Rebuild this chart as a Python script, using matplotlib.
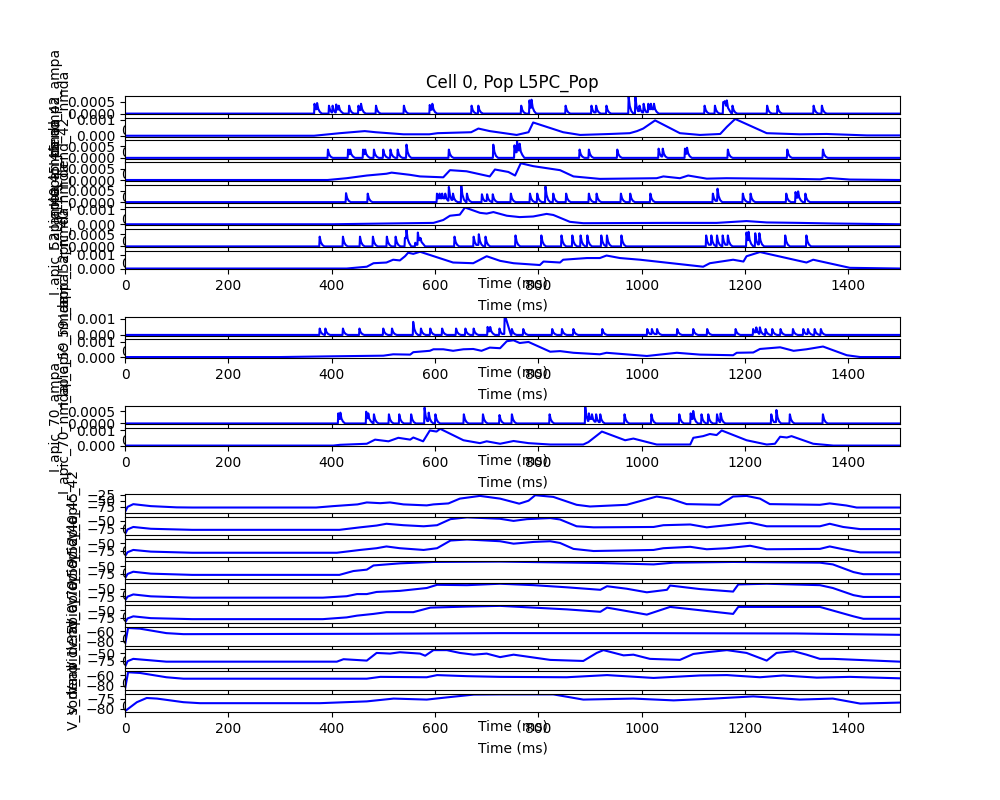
import numpy as np
import matplotlib
matplotlib.use('Agg')
import matplotlib.pyplot as plt

tmax = 1500.

#############################################
# Corrientes sinapticas (ampa: tiempos y picos de cada evento)
t_a1 = [366, 371, 394, 401, 408, 413, 433, 451, 456, 485, 539, 589, 594, 670, 683, 766, 782, 786, 852, 902,
        911, 931, 974, 987, 995, 1003, 1012, 1017, 1023, 1121, 1141, 1157, 1160, 1164, 1175, 1242, 1262, 1332, 1348]
p_a1 = [4.1e-4, 4.4e-4, 3.3e-4, 3.3e-4, 3.8e-4, 3.3e-4, 3.3e-4, 3.3e-4, 4.1e-4, 3.3e-4, 3.3e-4, 3.6e-4, 4.1e-4,
        3.3e-4, 3.3e-4, 3.3e-4, 5.5e-4, 5.8e-4, 3.3e-4, 3.3e-4, 3.3e-4, 3.3e-4, 7.0e-4, 7.0e-4, 3.3e-4, 4.1e-4,
        4.1e-4, 4.1e-4, 4.1e-4, 3.3e-4, 3.3e-4, 4.8e-4, 5.2e-4, 5.5e-4, 3.3e-4, 3.3e-4, 3.3e-4, 3.3e-4, 3.3e-4]

t_a3 = [392, 431, 435, 460, 464, 481, 499, 513, 527, 544, 626, 712, 753, 758, 763, 879, 897, 952, 1032, 1040,
        1083, 1087, 1166, 1281, 1350]
p_a3 = [3.5e-4, 3.5e-4, 3.5e-4, 3.5e-4, 3.5e-4, 3.5e-4, 3.5e-4, 3.5e-4, 3.5e-4, 5.6e-4, 3.5e-4, 5.6e-4, 5.3e-4,
        7.1e-4, 6.0e-4, 3.5e-4, 3.5e-4, 3.5e-4, 3.9e-4, 3.9e-4, 3.9e-4, 4.3e-4, 3.5e-4, 3.5e-4, 3.5e-4]

t_a5 = [427, 469, 603, 608, 613, 619, 626, 634, 650, 661, 690, 700, 711, 746, 783, 797, 813, 828, 853, 897,
        912, 959, 977, 1016, 1137, 1146, 1195, 1210, 1279, 1297, 1302, 1316]
p_a5 = [4.0e-4, 3.8e-4, 3.8e-4, 3.8e-4, 3.8e-4, 3.8e-4, 6.8e-4, 3.8e-4, 7.5e-4, 3.8e-4, 3.5e-4, 3.5e-4, 3.5e-4,
        3.8e-4, 3.8e-4, 3.8e-4, 7.0e-4, 3.8e-4, 3.8e-4, 3.8e-4, 3.8e-4, 3.8e-4, 3.8e-4, 3.8e-4, 3.8e-4, 6.0e-4,
        3.8e-4, 3.8e-4, 3.8e-4, 4.5e-4, 4.8e-4, 3.8e-4]

t_a7 = [376, 421, 454, 479, 506, 523, 541, 544, 561, 566, 571, 637, 674, 684, 697, 755, 805, 844, 865, 881,
        894, 921, 932, 960, 1124, 1134, 1145, 1156, 1166, 1202, 1206, 1219, 1227, 1277, 1318]
p_a7 = [4.0e-4, 4.0e-4, 4.0e-4, 4.0e-4, 4.0e-4, 4.0e-4, 3.5e-4, 6.9e-4, 1.5e-4, 5.7e-4, 3.5e-4, 4.0e-4, 4.0e-4,
        5.0e-4, 4.0e-4, 4.5e-4, 4.5e-4, 4.5e-4, 4.5e-4, 4.5e-4, 4.5e-4, 4.5e-4, 4.5e-4, 4.5e-4, 4.5e-4, 4.5e-4,
        4.5e-4, 4.5e-4, 4.5e-4, 5.7e-4, 6.0e-4, 5.4e-4, 5.4e-4, 4.5e-4, 4.5e-4]

t_a11 = [376, 387, 421, 453, 499, 516, 557, 572, 590, 613, 640, 658, 674, 701, 706, 724, 734, 737, 748, 770,
         826, 845, 867, 923, 1010, 1019, 1029, 1068, 1099, 1126, 1181, 1215, 1221, 1228, 1239, 1252, 1268,
         1292, 1312, 1321, 1334, 1346]
p_a11 = [4.0e-4, 4.0e-4, 4.0e-4, 4.0e-4, 4.0e-4, 4.0e-4, 8.2e-4, 4.0e-4, 4.0e-4, 4.0e-4, 4.0e-4, 4.0e-4, 4.0e-4,
         5.0e-4, 5.0e-4, 4.0e-4, 1.05e-3, 5.8e-4, 3.7e-4, 3.7e-4, 3.7e-4, 3.7e-4, 3.7e-4, 3.7e-4, 3.7e-4, 3.7e-4,
         3.7e-4, 3.7e-4, 3.7e-4, 3.7e-4, 3.7e-4, 3.7e-4, 4.7e-4, 4.7e-4, 3.7e-4, 3.7e-4, 3.7e-4, 3.7e-4, 3.7e-4,
         3.7e-4, 3.7e-4, 3.7e-4]

t_a15 = [412, 416, 466, 470, 481, 510, 530, 553, 579, 587, 600, 655, 692, 724, 748, 821, 890, 897, 903, 911,
         919, 966, 1018, 1072, 1094, 1099, 1115, 1128, 1145, 1152, 1250, 1260, 1286, 1350]
p_a15 = [4.2e-4, 4.5e-4, 4.9e-4, 4.2e-4, 3.8e-4, 3.8e-4, 3.8e-4, 3.8e-4, 6.6e-4, 4.5e-4, 3.8e-4, 3.8e-4, 3.8e-4,
         3.5e-4, 3.8e-4, 3.8e-4, 7.0e-4, 4.2e-4, 3.8e-4, 3.8e-4, 3.8e-4, 3.8e-4, 3.8e-4, 3.8e-4, 4.2e-4, 5.2e-4,
         3.8e-4, 3.8e-4, 3.8e-4, 4.2e-4, 3.8e-4, 5.6e-4, 3.8e-4, 3.8e-4]

# forma de cada evento ampa (ms desde el inicio, fraccion del pico)
spk_dt = [0, 0.8, 3, 6, 10]
spk_f = [0, 1, 0.45, 0.15, 0]

#############################################
# Corrientes nmda (puntos de la curva)
t_n2 = [0, 366, 416, 464, 485, 539, 589, 605, 670, 684, 706, 758, 781, 790, 848, 881, 939, 977, 991, 1003,
        1026, 1074, 1113, 1152, 1165, 1181, 1242, 1306, 1358, 1436, 1500]
v_n2 = [0, 0, 1.6e-4, 2.9e-4, 2.2e-4, 0.9e-4, 0.9e-4, 1.6e-4, 2.2e-4, 4.5e-4, 2.9e-4, 0.5e-4, 2.2e-4, 8.3e-4,
        2.2e-4, 0.5e-4, 1.1e-4, 1.6e-4, 2.9e-4, 4.5e-4, 9.6e-4, 1.6e-4, 0.5e-4, 1.1e-4, 5.6e-4, 10.5e-4, 1.6e-4,
        0.9e-4, 1.1e-4, 0.2e-4, 0.2e-4]

t_n4 = [0, 392, 429, 468, 506, 516, 552, 571, 616, 629, 661, 706, 716, 742, 755, 766, 790, 842, 868, 919,
        1029, 1042, 1074, 1090, 1126, 1164, 1294, 1345, 1361, 1403, 1500]
v_n4 = [0, 0, 0.8e-4, 2.0e-4, 2.8e-4, 3.3e-4, 2.3e-4, 1.6e-4, 1.2e-4, 4.4e-4, 3.9e-4, 1.6e-4, 4.7e-4, 3.6e-4,
        2.0e-4, 7.5e-4, 6.2e-4, 4.4e-4, 1.6e-4, 0.5e-4, 0.8e-4, 1.6e-4, 0.8e-4, 2.0e-4, 0.6e-4, 0.8e-4, 0.5e-4,
        0.3e-4, 0.9e-4, 0.2e-4, 0]

t_n6 = [0, 401, 506, 597, 616, 629, 648, 658, 687, 700, 713, 739, 764, 790, 816, 829, 861, 887, 1048, 1145,
        1203, 1242, 1306, 1371, 1500]
v_n6 = [0, 0, 0.5e-4, 0.9e-4, 2.8e-4, 5.6e-4, 6.3e-4, 11e-4, 7.5e-4, 7.0e-4, 8.0e-4, 5.6e-4, 4.7e-4, 5.1e-4,
        6.8e-4, 6.1e-4, 1.6e-4, 0.7e-4, 0.9e-4, 0.9e-4, 2.1e-4, 1.2e-4, 0.9e-4, 0.5e-4, 0]

t_n8 = [0, 429, 468, 481, 506, 519, 532, 542, 548, 558, 571, 635, 674, 700, 726, 752, 803, 810, 842, 848,
        894, 919, 932, 958, 997, 1119, 1132, 1177, 1197, 1203, 1229, 1319, 1332, 1403, 1500]
v_n8 = [0, 0, 1.3e-4, 3.8e-4, 4.3e-4, 6.3e-4, 5.8e-4, 8.8e-4, 11.3e-4, 10.5e-4, 12e-4, 4.3e-4, 3.8e-4, 8.8e-4,
        5.5e-4, 3.8e-4, 2.5e-4, 5.0e-4, 4.3e-4, 6.3e-4, 7.5e-4, 7.5e-4, 9.3e-4, 7.5e-4, 6.3e-4, 1.3e-4, 3.8e-4,
        6.3e-4, 5.0e-4, 8.8e-4, 11.8e-4, 4.3e-4, 6.3e-4, 0.5e-4, 0]

t_n12 = [0, 300, 403, 500, 519, 552, 558, 590, 597, 616, 635, 655, 674, 690, 706, 726, 739, 752, 764, 781,
         823, 842, 868, 919, 932, 1010, 1068, 1113, 1177, 1184, 1216, 1229, 1268, 1294, 1319, 1351, 1397, 1423, 1500]
v_n12 = [0, 0, 0.5e-4, 0.9e-4, 1.8e-4, 1.6e-4, 3.2e-4, 4.1e-4, 5.1e-4, 5.1e-4, 4.1e-4, 5.1e-4, 5.3e-4, 4.1e-4,
         6.2e-4, 5.8e-4, 10.4e-4, 11e-4, 9.2e-4, 9.9e-4, 3.5e-4, 3.9e-4, 2.8e-4, 1.8e-4, 2.8e-4, 0.7e-4, 2.8e-4,
         1.6e-4, 1.2e-4, 2.8e-4, 3.0e-4, 5.3e-4, 6.4e-4, 4.1e-4, 5.1e-4, 6.9e-4, 1.2e-4, 0, 0]

t_n16 = [0, 403, 416, 468, 484, 510, 529, 552, 558, 577, 590, 603, 610, 655, 687, 700, 726, 752, 781, 823,
         887, 897, 923, 968, 984, 1029, 1094, 1100, 1119, 1132, 1145, 1155, 1203, 1242, 1258, 1268, 1281, 1290,
         1332, 1371, 1500]
v_n16 = [0, 0, 0.5e-4, 1.2e-4, 3.9e-4, 2.8e-4, 5.1e-4, 3.9e-4, 5.3e-4, 2.8e-4, 9.9e-4, 9.2e-4, 11e-4, 3.5e-4,
         1.6e-4, 2.8e-4, 1.2e-4, 3.0e-4, 1.6e-4, 0.7e-4, 0.7e-4, 2.3e-4, 9.2e-4, 3.5e-4, 4.6e-4, 0.7e-4, 0.7e-4,
         5.1e-4, 6.2e-4, 7.6e-4, 6.9e-4, 9.9e-4, 3.5e-4, 0.7e-4, 1.2e-4, 5.8e-4, 5.3e-4, 6.2e-4, 1.2e-4, 0, 0]

#############################################
# Voltajes (mV)
t_v1 = [0, 5, 16, 50, 100, 130, 370, 403, 450, 468, 494, 513, 539, 584, 597, 626, 648, 687, 726, 763, 781,
        794, 829, 874, 900, 971, 1029, 1055, 1087, 1151, 1177, 1203, 1229, 1248, 1345, 1364, 1396, 1416, 1500]
v_v1 = [-95.8, -75, -64, -72, -77, -77.7, -77.7, -72, -65, -57, -60, -57, -65, -69, -65, -61, -41.5, -30.4,
        -41.5, -62, -50, -27.6, -34.5, -66.6, -73.5, -66.6, -33, -41.5, -63.8, -66.6, -33, -30.4, -41.5, -63.8,
        -66.6, -61, -69.4, -77.7, -77.7]

t_v2 = [0, 5, 16, 50, 130, 415, 455, 487, 506, 539, 578, 604, 630, 662, 726, 752, 778, 823, 842, 874, 907,
        1023, 1042, 1094, 1126, 1165, 1210, 1242, 1345, 1364, 1390, 1423, 1500]
v_v2 = [-93.5, -78, -70.1, -76, -79.5, -79.5, -71.3, -65.4, -59.6, -64.3, -67.8, -64.3, -44.4, -38.5, -43.2,
        -50.2, -44.4, -40.9, -45.5, -67.8, -71.3, -70.1, -64.3, -61.9, -71.3, -64.3, -56.1, -67.8, -67.8, -59.6,
        -70.1, -77.1, -77.1]

t_v3 = [0, 5, 16, 50, 130, 410, 455, 487, 506, 532, 578, 604, 630, 662, 726, 752, 791, 823, 842, 868, 907,
        1023, 1042, 1094, 1126, 1165, 1210, 1242, 1345, 1364, 1390, 1423, 1500]
v_v3 = [-93.5, -80, -72.4, -78, -81.8, -81.8, -72.4, -66.6, -60.7, -66.6, -72.4, -66.6, -40.9, -37.3, -43.2,
        -51.4, -45.5, -43.2, -49, -68.9, -76, -72.4, -66.6, -61.9, -70.1, -66.6, -58.4, -70.1, -68.9, -60.7,
        -70.1, -80.6, -80.6]

t_v4 = [0, 5, 16, 50, 130, 415, 442, 468, 481, 532, 597, 726, 920, 1023, 1062, 1177, 1345, 1370, 1410, 1429, 1500]
v_v4 = [-91.2, -76, -68.4, -75, -79.2, -79.2, -66, -61.2, -46.8, -39.6, -34.8, -33.6, -38.4, -43.2, -37.2,
        -34.8, -37.2, -43.2, -69.6, -76.8, -76.8]

t_v5 = [0, 5, 16, 50, 130, 383, 429, 449, 468, 487, 532, 584, 604, 662, 726, 791, 855, 920, 933, 971, 1010,
        1049, 1055, 1113, 1177, 1187, 1242, 1345, 1370, 1410, 1429, 1500]
v_v5 = [-90, -77, -69.6, -76, -80.4, -80.4, -75.6, -68.4, -68.4, -61.2, -57.6, -48, -37.2, -38.4, -33.6, -38.4,
        -45.6, -54, -42, -50.4, -62.4, -54, -39.6, -51.6, -60, -36, -33.6, -38.4, -48, -72, -78, -78]

t_v6 = [0, 5, 16, 50, 130, 383, 429, 449, 481, 506, 558, 591, 662, 726, 855, 920, 933, 1010, 1055, 1177, 1187,
        1345, 1410, 1429, 1500]
v_v6 = [-92.4, -78, -70.8, -77, -80.4, -80.4, -74.4, -68.4, -62.4, -56.4, -56.4, -40.8, -37.2, -34.8, -46.8,
        -55.2, -40.8, -64.8, -38.4, -62.4, -38.4, -38.4, -70.8, -79.2, -79.2]

t_v7 = [0, 6, 29, 80, 113, 468, 726, 1000, 1300, 1500]
v_v7 = [-86.7, -54, -55.3, -64, -66, -65.3, -64, -64, -64.7, -67.3]

t_v8 = [0, 5, 16, 80, 410, 423, 468, 487, 513, 532, 571, 581, 597, 623, 648, 675, 700, 726, 752, 823, 887, 913,
        926, 965, 984, 1016, 1074, 1100, 1126, 1165, 1203, 1242, 1261, 1294, 1319, 1345, 1371, 1500]
v_v8 = [-94.7, -76, -68.3, -77.5, -77.5, -69.4, -74, -48.8, -51, -46.5, -51, -58, -39.6, -39.6, -48.8, -54.5,
        -51, -62.6, -54.5, -71.7, -75.2, -48.8, -39.6, -56.8, -54.5, -68.3, -71.7, -52.2, -46.5, -39.6, -48.8,
        -74, -48.8, -43, -54.5, -68.3, -68.3, -77.5]

t_v9 = [0, 6, 29, 80, 113, 468, 494, 584, 604, 662, 726, 855, 933, 1023, 1113, 1165, 1229, 1274, 1339, 1403, 1500]
v_v9 = [-86, -54.7, -56, -64, -66.7, -66.7, -63.3, -64, -60, -62, -63.3, -64, -60, -65.3, -60.7, -60, -64,
        -60.7, -64.7, -63.3, -66]

t_v10 = [0, 23, 42, 62, 113, 145, 377, 468, 520, 584, 623, 675, 726, 829, 887, 984, 1062, 1139, 1216, 1306,
         1370, 1423, 1500]
v_v10 = [-81.1, -76.6, -74.5, -74.8, -76.6, -77.1, -77.1, -76.2, -74.8, -75.3, -74.2, -72.8, -72.7, -72.7,
         -75.3, -74.8, -75.7, -74.8, -73.7, -75.3, -74.8, -77.3, -76.8]

etiquetas = ['I_dend_42_ampa', 'I_dend_42_nmda', 'I_apic_45_ampa', 'I_apic_45_nmda',
             'I_apic_40_ampa', 'I_apic_40_nmda', 'I_apic_52_ampa', 'I_apic_52_nmda',
             'I_apic_59_ampa', 'I_apic_59_nmda', 'I_apic_70_ampa', 'I_apic_70_nmda',
             'V_apic_42', 'V_apic_45', 'V_apic_40', 'V_apic_52', 'V_apic_59',
             'V_apic_70', 'V_dend_0', 'V_apic_35', 'V_dend_1', 'V_soma']

# fila de la grilla (28 filas) donde va cada traza
filas = [1, 2, 3, 4, 5, 6, 7, 8, 11, 12, 15, 16, 19, 20, 21, 22, 23, 24, 25, 26, 27, 28]


def trazo_spikes(tiempos, picos):
    # los picos leidos ya son la altura total, no se suman
    t = [0.]
    v = [0.]
    for i, (s, p) in enumerate(zip(tiempos, picos)):
        sig = tiempos[i + 1] if i + 1 < len(tiempos) else tmax
        lvl = v[-1]
        if t[-1] < s:
            t.append(s)
            v.append(lvl)
        for dt, f in zip(spk_dt[1:], spk_f[1:]):
            if s + dt < sig:
                t.append(s + dt)
                v.append(max(f * p, lvl * (1 - dt / 10.)))
    t.append(tmax)
    v.append(0.)
    return t, v


trazas = [trazo_spikes(t_a1, p_a1), (t_n2, v_n2), trazo_spikes(t_a3, p_a3), (t_n4, v_n4),
          trazo_spikes(t_a5, p_a5), (t_n6, v_n6), trazo_spikes(t_a7, p_a7), (t_n8, v_n8),
          trazo_spikes(t_a11, p_a11), (t_n12, v_n12), trazo_spikes(t_a15, p_a15), (t_n16, v_n16),
          (t_v1, v_v1), (t_v2, v_v2), (t_v3, v_v3), (t_v4, v_v4), (t_v5, v_v5),
          (t_v6, v_v6), (t_v7, v_v7), (t_v8, v_v8), (t_v9, v_v9), (t_v10, v_v10)]

fig = plt.figure(figsize=(10, 8), dpi=100)
for k, (fila, lab, (tt, vv)) in enumerate(zip(filas, etiquetas, trazas)):
    ax = plt.subplot(28, 1, fila)
    ax.plot(tt, vv, 'b', linewidth=1.5)
    ax.set_xlim([0, tmax])
    ax.set_xlabel('Time (ms)')
    ax.set_ylabel(lab)
    if k == 0:
        ax.set_title('Cell 0, Pop L5PC_Pop')

fig.savefig('out.png', dpi=100)
